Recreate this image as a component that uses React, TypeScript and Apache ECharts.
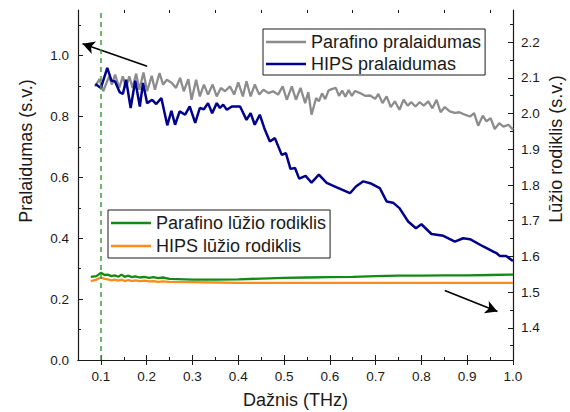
import React, { useEffect, useRef } from "react";
import * as echarts from "echarts";

const FONT = "'Liberation Sans', Arial, Helvetica, sans-serif";
const INK = "#1a1a1a";

// Axis ticks / labels
const X_MAJOR = [0.1, 0.2, 0.3, 0.4, 0.5, 0.6, 0.7, 0.8, 0.9, 1.0];
const X_MINOR = [0.05, 0.15, 0.25, 0.35, 0.45, 0.55, 0.65, 0.75, 0.85, 0.95];
const LEFT_MAJOR = [0, 0.2, 0.4, 0.6, 0.8, 1.0];
const LEFT_MINOR = [0.1, 0.3, 0.5, 0.7, 0.9, 1.1];
const RIGHT_MAJOR = [1.4, 1.5, 1.6, 1.7, 1.8, 1.9, 2.0, 2.1, 2.2];
const RIGHT_MINOR = [1.35, 1.45, 1.55, 1.65, 1.75, 1.85, 1.95, 2.05, 2.15, 2.25];

const SERIES_NAMES = [
  "Parafino pralaidumas",
  "HIPS pralaidumas",
  "Parafino lūžio rodiklis",
  "HIPS lūžio rodiklis",
];
const COLORS = ["#8c8c8c", "#00008a", "#138a13", "#ff8c1a"];

// Parafino pralaidumas (left axis) [THz, s.v.]
const parafinoT = [
  [0.087, 0.899], [0.097, 0.923], [0.105, 0.883], [0.118, 0.932], [0.124, 0.905],
  [0.131, 0.938], [0.14, 0.894], [0.148, 0.932], [0.155, 0.894], [0.162, 0.932],
  [0.169, 0.894], [0.177, 0.941], [0.184, 0.888], [0.193, 0.945], [0.201, 0.883],
  [0.211, 0.934], [0.218, 0.888], [0.228, 0.943], [0.236, 0.905], [0.244, 0.921],
  [0.255, 0.91], [0.264, 0.894], [0.273, 0.927], [0.281, 0.883], [0.291, 0.923],
  [0.298, 0.855], [0.308, 0.921], [0.316, 0.866], [0.325, 0.905], [0.334, 0.872],
  [0.344, 0.905], [0.353, 0.866], [0.362, 0.894], [0.371, 0.883], [0.382, 0.899],
  [0.391, 0.872], [0.4, 0.912], [0.41, 0.866], [0.418, 0.916], [0.427, 0.866],
  [0.436, 0.905], [0.446, 0.872], [0.455, 0.888], [0.466, 0.877], [0.476, 0.883],
  [0.487, 0.872], [0.497, 0.899], [0.506, 0.855], [0.517, 0.899], [0.526, 0.855],
  [0.536, 0.894], [0.546, 0.844], [0.553, 0.88], [0.56, 0.806], [0.57, 0.861],
  [0.576, 0.85], [0.583, 0.876], [0.59, 0.857], [0.597, 0.885], [0.604, 0.89],
  [0.613, 0.894], [0.62, 0.868], [0.627, 0.885], [0.634, 0.865], [0.641, 0.887],
  [0.648, 0.868], [0.655, 0.884], [0.666, 0.877], [0.677, 0.868], [0.688, 0.869],
  [0.699, 0.858], [0.706, 0.874], [0.715, 0.844], [0.724, 0.866], [0.733, 0.831],
  [0.742, 0.85], [0.752, 0.822], [0.761, 0.855], [0.77, 0.836], [0.778, 0.847],
  [0.787, 0.833], [0.796, 0.847], [0.805, 0.836], [0.815, 0.85], [0.824, 0.827],
  [0.833, 0.855], [0.842, 0.814], [0.851, 0.831], [0.862, 0.817], [0.873, 0.812],
  [0.883, 0.814], [0.895, 0.806], [0.906, 0.8], [0.915, 0.811], [0.924, 0.77],
  [0.934, 0.803], [0.942, 0.784], [0.951, 0.795], [0.96, 0.759], [0.97, 0.778],
  [0.979, 0.767], [0.99, 0.773], [1.0, 0.757],
];

// HIPS pralaidumas (left axis)
const hipsT = [
  [0.088, 0.907], [0.1, 0.894], [0.114, 0.96], [0.123, 0.918], [0.131, 0.915],
  [0.141, 0.88], [0.148, 0.874], [0.155, 0.921], [0.165, 0.828], [0.175, 0.918],
  [0.185, 0.833], [0.192, 0.91], [0.201, 0.844], [0.212, 0.855], [0.221, 0.841],
  [0.232, 0.861], [0.245, 0.771], [0.254, 0.819], [0.262, 0.773], [0.272, 0.817],
  [0.284, 0.806], [0.294, 0.833], [0.306, 0.779], [0.316, 0.828], [0.325, 0.824],
  [0.334, 0.844], [0.343, 0.811], [0.353, 0.844], [0.36, 0.828], [0.367, 0.839],
  [0.375, 0.822], [0.386, 0.833], [0.404, 0.833], [0.418, 0.789], [0.427, 0.811],
  [0.436, 0.773], [0.447, 0.806], [0.458, 0.757], [0.469, 0.718], [0.48, 0.729],
  [0.495, 0.674], [0.504, 0.68], [0.514, 0.628], [0.524, 0.631], [0.533, 0.596],
  [0.547, 0.605], [0.56, 0.583], [0.576, 0.609], [0.593, 0.582], [0.615, 0.567],
  [0.644, 0.548], [0.657, 0.57], [0.673, 0.587], [0.688, 0.581], [0.709, 0.565],
  [0.724, 0.521], [0.738, 0.517], [0.752, 0.499], [0.771, 0.455], [0.788, 0.433],
  [0.8, 0.446], [0.822, 0.414], [0.837, 0.411], [0.848, 0.408], [0.873, 0.389],
  [0.891, 0.4], [0.906, 0.397], [0.935, 0.373], [0.957, 0.356], [0.965, 0.35],
  [0.971, 0.342], [0.985, 0.342], [1.0, 0.325],
];

// Parafino lūžio rodiklis (right axis)
const parafinoN = [
  [0.078, 1.543], [0.09, 1.545], [0.1, 1.554], [0.108, 1.548], [0.115, 1.549],
  [0.123, 1.545], [0.13, 1.547], [0.138, 1.543], [0.145, 1.549], [0.152, 1.543],
  [0.16, 1.546], [0.168, 1.542], [0.175, 1.544], [0.185, 1.541], [0.195, 1.543],
  [0.205, 1.54], [0.215, 1.542], [0.225, 1.539], [0.235, 1.541], [0.25, 1.537],
  [0.3, 1.535], [0.35, 1.535], [0.4, 1.536], [0.45, 1.538], [0.5, 1.54],
  [0.55, 1.541], [0.6, 1.542], [0.65, 1.543], [0.7, 1.545], [0.75, 1.546],
  [0.8, 1.546], [0.85, 1.547], [0.9, 1.547], [0.95, 1.548], [1.0, 1.549],
];

// HIPS lūžio rodiklis (right axis)
const hipsN = [
  [0.078, 1.531], [0.09, 1.535], [0.1, 1.541], [0.108, 1.537], [0.115, 1.536],
  [0.123, 1.533], [0.13, 1.535], [0.138, 1.532], [0.145, 1.535], [0.152, 1.531],
  [0.16, 1.534], [0.168, 1.531], [0.175, 1.533], [0.185, 1.531], [0.195, 1.532],
  [0.205, 1.53], [0.215, 1.531], [0.225, 1.529], [0.235, 1.53], [0.25, 1.529],
  [0.3, 1.528], [0.35, 1.527], [0.4, 1.526], [0.5, 1.526], [0.6, 1.526],
  [0.7, 1.526], [0.8, 1.526], [0.9, 1.526], [1.0, 1.526],
];

// Annotation arrows (left-axis data coordinates): [from, to]
const ARROWS = [
  [[0.201, 0.965], [0.06, 1.039]],
  [[0.851, 0.228], [0.966, 0.159]],
];
const MARKER_FREQ = 0.1;

const fmt = (v: number) => Number(v).toFixed(1);

export default function App() {
  const ref = useRef<HTMLDivElement>(null);

  useEffect(() => {
    if (!ref.current) return;
    const chart = echarts.init(ref.current, null, { renderer: "svg" });

    const axisLineStyle = { color: INK, width: 1.2 };
    const xBase = { type: "value", min: 0.05, max: 1.0, splitLine: { show: false } };
    const leftBase = { type: "value", min: 0, max: 1.15, splitLine: { show: false } };
    const rightBase = { type: "value", min: 1.31, max: 2.29, splitLine: { show: false } };
    const labelStyle = { fontSize: 13.5, color: INK, fontFamily: FONT };
    const legendBase = {
      orient: "vertical",
      icon: "rect",
      itemWidth: 40,
      itemHeight: 2.6,
      borderColor: INK,
      borderWidth: 1,
      selectedMode: false,
      textStyle: { fontSize: 18, lineHeight: 18, color: INK, fontFamily: FONT },
    };

    const option: any = {
      animation: false,
      backgroundColor: "#ffffff",
      grid: { left: 78, right: 57, top: 10, bottom: 52, containLabel: false },
      xAxis: [
        {
          ...xBase,
          position: "bottom",
          axisLine: { show: true, lineStyle: axisLineStyle },
          axisTick: { show: true, inside: true, length: 5, customValues: X_MAJOR, lineStyle: { color: INK, width: 1 } },
          axisLabel: { show: true, customValues: X_MAJOR, formatter: fmt, margin: 9, ...labelStyle },
        },
        {
          ...xBase,
          position: "top",
          axisLine: { show: true, lineStyle: axisLineStyle },
          axisTick: { show: true, inside: true, length: 5, customValues: X_MAJOR, lineStyle: { color: INK, width: 1 } },
          axisLabel: { show: false },
        },
        {
          ...xBase,
          position: "bottom",
          axisLine: { show: false },
          axisTick: { show: true, inside: true, length: 3, customValues: X_MINOR, lineStyle: { color: INK, width: 1 } },
          axisLabel: { show: false },
        },
        {
          ...xBase,
          position: "top",
          axisLine: { show: false },
          axisTick: { show: true, inside: true, length: 3, customValues: X_MINOR, lineStyle: { color: INK, width: 1 } },
          axisLabel: { show: false },
        },
      ],
      yAxis: [
        {
          ...leftBase,
          position: "left",
          axisLine: { show: true, lineStyle: axisLineStyle },
          axisTick: { show: true, inside: true, length: 5, customValues: LEFT_MAJOR, lineStyle: { color: INK, width: 1 } },
          axisLabel: { show: true, customValues: LEFT_MAJOR, formatter: fmt, margin: 9, ...labelStyle },
        },
        {
          ...rightBase,
          position: "right",
          axisLine: { show: true, lineStyle: axisLineStyle },
          axisTick: { show: true, inside: true, length: 5, customValues: RIGHT_MAJOR, lineStyle: { color: INK, width: 1 } },
          axisLabel: { show: true, customValues: RIGHT_MAJOR, formatter: fmt, margin: 8, ...labelStyle },
        },
        {
          ...leftBase,
          position: "left",
          axisLine: { show: false },
          axisTick: { show: true, inside: true, length: 3, customValues: LEFT_MINOR, lineStyle: { color: INK, width: 1 } },
          axisLabel: { show: false },
        },
        {
          ...rightBase,
          position: "right",
          axisLine: { show: false },
          axisTick: { show: true, inside: true, length: 3, customValues: RIGHT_MINOR, lineStyle: { color: INK, width: 1 } },
          axisLabel: { show: false },
        },
      ],
      legend: [
        {
          ...legendBase,
          data: [SERIES_NAMES[0], SERIES_NAMES[1]],
          left: 263,
          top: 29,
          padding: [4, 4, 2, 3],
          itemGap: 4,
        },
        {
          ...legendBase,
          data: [SERIES_NAMES[2], SERIES_NAMES[3]],
          left: 108,
          top: 210,
          padding: [4, 4, 3, 3],
          itemGap: 5,
        },
      ],
      series: [
        {
          name: SERIES_NAMES[0],
          type: "line",
          xAxisIndex: 0,
          yAxisIndex: 0,
          data: parafinoT,
          symbol: "none",
          lineStyle: { color: COLORS[0], width: 2.3 },
          itemStyle: { color: COLORS[0] },
          z: 2,
          markLine: {
            silent: true,
            symbol: ["none", "arrow"],
            symbolSize: [10, 12],
            label: { show: false },
            lineStyle: { color: "#000", width: 1.6, type: "solid" },
            data: ARROWS.map(([a, b]) => [{ coord: a }, { coord: b }]),
          },
        },
        {
          name: SERIES_NAMES[1],
          type: "line",
          xAxisIndex: 0,
          yAxisIndex: 0,
          data: hipsT,
          symbol: "none",
          lineStyle: { color: COLORS[1], width: 2.5 },
          itemStyle: { color: COLORS[1] },
          z: 3,
        },
        {
          name: SERIES_NAMES[2],
          type: "line",
          xAxisIndex: 0,
          yAxisIndex: 1,
          data: parafinoN,
          symbol: "none",
          lineStyle: { color: COLORS[2], width: 2.3 },
          itemStyle: { color: COLORS[2] },
          z: 3,
          markLine: {
            silent: true,
            symbol: ["none", "none"],
            label: { show: false },
            lineStyle: { color: "#3f9f3f", width: 1.5, type: [5, 4] },
            data: [{ xAxis: MARKER_FREQ }],
          },
        },
        {
          name: SERIES_NAMES[3],
          type: "line",
          xAxisIndex: 0,
          yAxisIndex: 1,
          data: hipsN,
          symbol: "none",
          lineStyle: { color: COLORS[3], width: 2.3 },
          itemStyle: { color: COLORS[3] },
          z: 2,
        },
      ],
      graphic: [
        {
          type: "text",
          x: 295.5,
          y: 400,
          style: {
            text: "Dažnis (THz)",
            fill: INK,
            font: `18px ${FONT}`,
            align: "center",
            verticalAlign: "middle",
          },
        },
        {
          type: "text",
          x: 26,
          y: 151,
          rotation: Math.PI / 2,
          style: {
            text: "Pralaidumas (s.v.)",
            fill: INK,
            font: `18px ${FONT}`,
            align: "center",
            verticalAlign: "middle",
          },
        },
        {
          type: "text",
          x: 556,
          y: 149,
          rotation: Math.PI / 2,
          style: {
            text: "Lūžio rodiklis (s.v.)",
            fill: INK,
            font: `18px ${FONT}`,
            align: "center",
            verticalAlign: "middle",
          },
        },
      ],
    };

    chart.setOption(option);
    return () => chart.dispose();
  }, []);

  return (
    <div
      ref={ref}
      style={{ position: "fixed", left: 0, top: 0, width: 570, height: 412, background: "#fff" }}
    />
  );
}
